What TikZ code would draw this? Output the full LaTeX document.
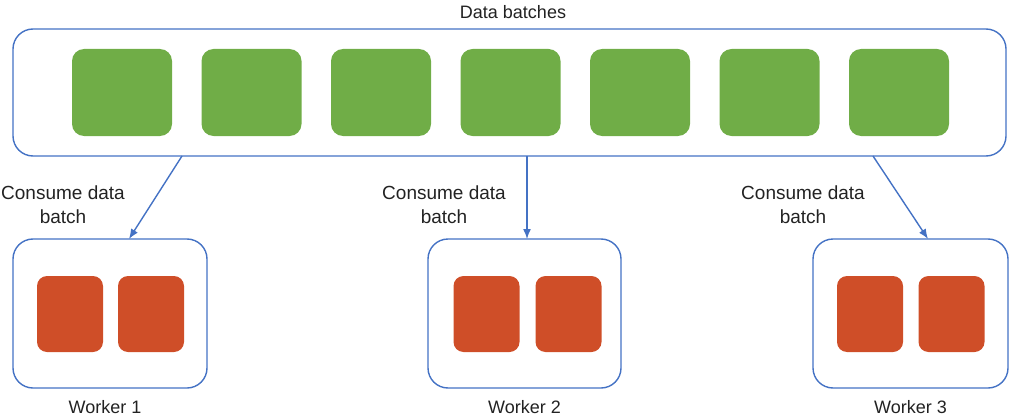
\documentclass[tikz,border=0pt]{standalone}
\usepackage{fontspec}
\setmainfont{Liberation Sans}
\usetikzlibrary{
    arrows.meta,
    positioning
}
\definecolor{frameblue}{HTML}{4472C4}
\definecolor{batchgreen}{HTML}{70AD47}
\definecolor{taskred}{HTML}{CF4E28}
\definecolor{textgray}{HTML}{222222}

\begin{document}
\begin{tikzpicture}[x=1pt, y=-1pt, >={Latex[length=10pt, width=8pt]},
    group/.style={draw=frameblue, line width=1.4pt, rounded corners=20pt, inner sep=0pt},
    batch/.style={fill=batchgreen, rounded corners=12pt, minimum width=100pt, minimum height=87pt, inner sep=0pt},
    task/.style={fill=taskred, rounded corners=10pt, minimum width=66pt, minimum height=76pt, inner sep=0pt},
    lbl/.style={font=\fontsize{18}{24}\selectfont, align=center, text=textgray},
    flow/.style={->, draw=frameblue, line width=1.4pt}]
    \useasboundingbox (0,0) rectangle (1011,417);
    % data batches
    \node[group, minimum width=993pt, minimum height=127pt] (batches) at (509.5,92.5) {};
    \node[lbl] (title) at (513,12) {Data batches};
    \foreach \i in {1,...,7}
        \node[batch] (b\i) at ({122+129.5*(\i-1)},92.5) {};
    % workers
    \node[group, minimum width=194pt, minimum height=149pt] (w1) at (110,313.5) {};
    \node[group, minimum width=193pt, minimum height=149pt] (w2) at (524.5,313.5) {};
    \node[group, minimum width=195pt, minimum height=149pt] (w3) at (910.5,313.5) {};
    \node[task] (t11) at (70,314) {};
    \node[task] (t12) at (151,314) {};
    \node[task] (t21) at (486.5,314) {};
    \node[task] (t22) at (568.5,314) {};
    \node[task] (t31) at (870,314) {};
    \node[task] (t32) at (951.5,314) {};
    \node[lbl, below=8pt of w1, xshift=-5pt] (w1lbl) {Worker 1};
    \node[lbl, below=8pt of w2] (w2lbl) {Worker 2};
    \node[lbl, below=8pt of w3] (w3lbl) {Worker 3};
    % consume arrows
    \coordinate (out1) at (182,156);
    \coordinate (out2) at (527,156);
    \coordinate (out3) at (873,156);
    \coordinate (in1) at (129,239);
    \coordinate (in2) at (527,239);
    \coordinate (in3) at (928,239);
    \draw[flow] (out1) -- (in1);
    \draw[flow] (out2) -- (in2);
    \draw[flow] (out3) -- (in3);
    \node[lbl, font=\fontsize{19}{24}\selectfont] (c1) at (63,205) {Consume data\\batch};
    \node[lbl, font=\fontsize{19}{24}\selectfont] (c2) at (444,205) {Consume data\\batch};
    \node[lbl, font=\fontsize{19}{24}\selectfont] (c3) at (803,205) {Consume data\\batch};
\end{tikzpicture}
\end{document}
